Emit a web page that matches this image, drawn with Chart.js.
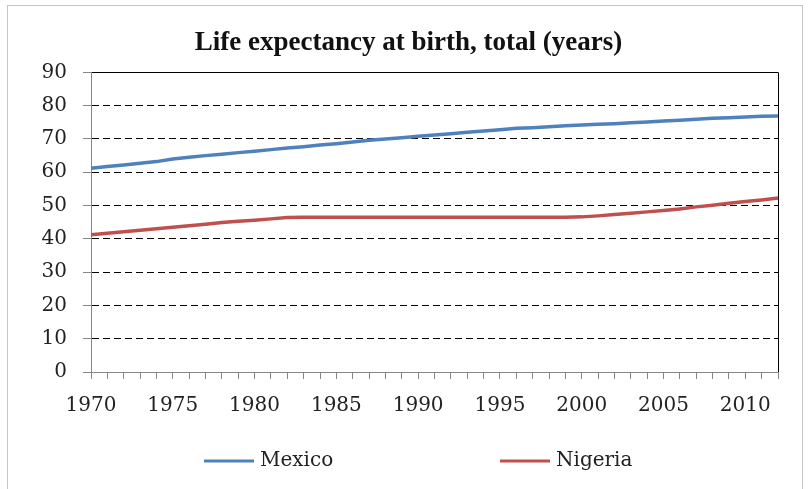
<!DOCTYPE html>
<html lang="en">
<head>
    <meta charset="UTF-8">
    <title>Life expectancy at birth</title>
    <script src="https://cdn.jsdelivr.net/npm/chart.js"></script>
    <style>
        body { margin: 0; background: #fff; }
        .wrap { position: relative; width: 809px; height: 489px; overflow: hidden; }
        .frame {
            position: absolute; left: 7px; top: 5px; width: 794px; height: 500px;
            border: 1px solid #c4c4c4; pointer-events: none;
        }
        canvas { position: absolute; left: 0; top: 0; }
    </style>
</head>
<body>
    <div class="wrap">
        <canvas id="lifeChart" width="809" height="489"></canvas>
        <div class="frame"></div>
    </div>

    <script>
        // Data
        const years = [];
        for (let y = 1970; y <= 2012; y++) years.push(String(y));

        const mexico = [
            61.2, 61.7, 62.2, 62.7, 63.2, 64.0, 64.5, 65.0, 65.4, 65.9,
            66.3, 66.8, 67.3, 67.7, 68.2, 68.6, 69.1, 69.6, 70.0, 70.4,
            70.8, 71.2, 71.6, 72.0, 72.4, 72.8, 73.2, 73.4, 73.7, 74.0,
            74.2, 74.4, 74.6, 74.9, 75.1, 75.4, 75.6, 75.9, 76.2, 76.4,
            76.6, 76.8, 76.9
        ];
        const nigeria = [
            41.2, 41.7, 42.1, 42.6, 43.0, 43.5, 43.9, 44.4, 44.9, 45.3,
            45.6, 46.0, 46.4, 46.5, 46.5, 46.5, 46.5, 46.5, 46.5, 46.5,
            46.5, 46.5, 46.5, 46.5, 46.5, 46.5, 46.5, 46.5, 46.5, 46.5,
            46.6, 46.9, 47.3, 47.7, 48.1, 48.5, 49.0, 49.6, 50.1, 50.7,
            51.2, 51.7, 52.3
        ];
        const yTicks = [0, 10, 20, 30, 40, 50, 60, 70, 80, 90];

        const axisGray = '#868686';
        const tickFont = { family: 'DejaVu Serif', size: 20 };

        // Excel-style legend: line sample + label, spread across the bottom
        const excelLegend = {
            id: 'excelLegend',
            afterDraw(chart, args, opts) {
                const ctx = chart.ctx;
                ctx.save();
                ctx.font = '20px "DejaVu Serif"';
                ctx.textBaseline = 'middle';
                ctx.fillStyle = '#222';
                chart.data.datasets.forEach((ds, i) => {
                    const x = opts.starts[i];
                    ctx.strokeStyle = ds.borderColor;
                    ctx.lineWidth = 3;
                    ctx.beginPath();
                    ctx.moveTo(x, opts.y);
                    ctx.lineTo(x + opts.boxWidth, opts.y);
                    ctx.stroke();
                    ctx.fillText(ds.label, x + opts.boxWidth + 6, opts.y);
                });
                ctx.restore();
            }
        };

        const ctx = document.getElementById('lifeChart').getContext('2d');
        new Chart(ctx, {
            type: 'line',
            data: {
                labels: years,
                datasets: [
                    {
                        label: 'Mexico',
                        data: mexico,
                        borderColor: '#4F81BD',
                        borderWidth: 3.5,
                        pointRadius: 0,
                        tension: 0
                    },
                    {
                        label: 'Nigeria',
                        data: nigeria,
                        borderColor: '#C0504D',
                        borderWidth: 3.5,
                        pointRadius: 0,
                        tension: 0
                    }
                ]
            },
            options: {
                responsive: false,
                animation: false,
                layout: { padding: { left: 39, right: 31, top: 0, bottom: 56 } },
                plugins: {
                    title: {
                        display: true,
                        text: 'Life expectancy at birth, total (years)',
                        color: '#111',
                        font: { family: 'Liberation Serif', size: 27, weight: 'bold' },
                        padding: { top: 27, bottom: 13 }
                    },
                    legend: { display: false },
                    tooltip: { enabled: false },
                    excelLegend: { y: 461, starts: [204, 500], boxWidth: 50 }
                },
                scales: {
                    x: {
                        ticks: {
                            autoSkip: false,
                            maxRotation: 0,
                            padding: 15,
                            color: '#222',
                            font: tickFont,
                            callback: function(val, i) {
                                const yr = Number(years[i]);
                                return yr % 5 === 0 ? yr : '';
                            }
                        },
                        grid: {
                            drawOnChartArea: true,
                            color: c => c.index === years.length - 1 ? '#000' : 'rgba(0,0,0,0)',
                            tickColor: axisGray,
                            tickLength: 7
                        },
                        border: { color: axisGray, width: 1 }
                    },
                    y: {
                        min: 0,
                        max: 90,
                        afterBuildTicks: scale => {
                            scale.ticks = yTicks.map(v => ({ value: v }));
                        },
                        afterFit: scale => { scale.width = 52; },
                        ticks: {
                            padding: 16,
                            color: '#222',
                            font: tickFont
                        },
                        grid: {
                            color: c => c.tick && c.tick.value === 0 ? 'rgba(0,0,0,0)' : '#000',
                            tickColor: axisGray,
                            tickLength: 8,
                            tickBorderDash: []
                        },
                        border: {
                            color: axisGray,
                            width: 1,
                            dash: c => c.tick && c.tick.value === 90 ? [] : [7, 4]
                        }
                    }
                }
            },
            plugins: [excelLegend]
        });
    </script>
</body>
</html>
